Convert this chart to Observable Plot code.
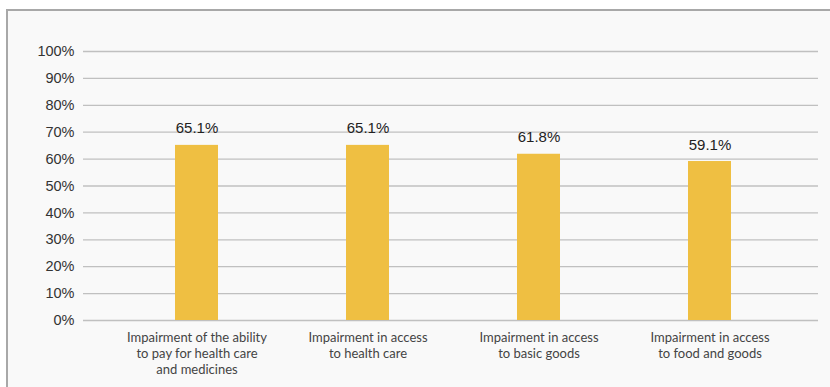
<!DOCTYPE html>
<html>
<head>
<meta charset="utf-8">
<script src="https://cdn.jsdelivr.net/npm/d3@7"></script>
<script src="https://cdn.jsdelivr.net/npm/@observablehq/plot@0.6"></script>
<style>
  html, body { margin: 0; padding: 0; background: #ffffff; overflow: hidden; }
  #wrap { position: relative; width: 830px; height: 387px; }
  #frame { position: absolute; left: 6px; top: 9px; width: 840px; height: 400px;
           background: #f9f9f9; border: 2px solid #a8a8a8; box-sizing: border-box; }
  #chart { position: absolute; left: 0; top: 0; }
  #chart svg { background: transparent; overflow: visible; }
</style>
</head>
<body>
<div id="wrap"><div id="frame"></div><div id="chart"></div></div>
<script>
const categories = [
  "Impairment of the ability\nto pay for health care\nand medicines",
  "Impairment in access\nto health care",
  "Impairment in access\nto basic goods",
  "Impairment in access\nto food and goods"
];
const values = [0.651, 0.651, 0.618, 0.591];
const valueLabels = ["65.1%", "65.1%", "61.8%", "59.1%"];
const yTicks = [0, 0.1, 0.2, 0.3, 0.4, 0.5, 0.6, 0.7, 0.8, 0.9, 1.0];

const data = categories.map((c, i) => ({category: c, value: values[i], label: valueLabels[i]}));

const chart = Plot.plot({
  width: 830,
  height: 387,
  marginLeft: 83,
  marginRight: 12,
  marginTop: 51,
  marginBottom: 67,
  style: {background: "transparent"},
  x: {domain: categories, range: [88, 818], paddingInner: 0.746, paddingOuter: 0.5, label: null},
  y: {domain: [0, 1], label: null},
  marks: [
    Plot.ruleY(yTicks, {stroke: "#c0c0c0", strokeWidth: 1.3}),
    Plot.axisY({ticks: yTicks, tickFormat: d3.format(".0%"), tickSize: 0, tickPadding: 9,
                fontSize: 14.5, fontFamily: "Liberation Sans, Arial, sans-serif", fill: "#333", label: null}),
    Plot.barY(data, {x: "category", y: "value", fill: "#efbf42"}),
    Plot.text(data, {x: "category", y: "value", text: "label", lineAnchor: "bottom", dy: -12,
                     fontSize: 15, fontFamily: "Liberation Sans, Arial, sans-serif", fill: "#222"}),
    Plot.axisX({tickSize: 0, tickPadding: 10, fontSize: 13, lineHeight: 1.23,
                fontFamily: "Lato, sans-serif", fill: "#444", label: null})
  ]
});
document.getElementById("chart").appendChild(chart);
</script>
</body>
</html>
